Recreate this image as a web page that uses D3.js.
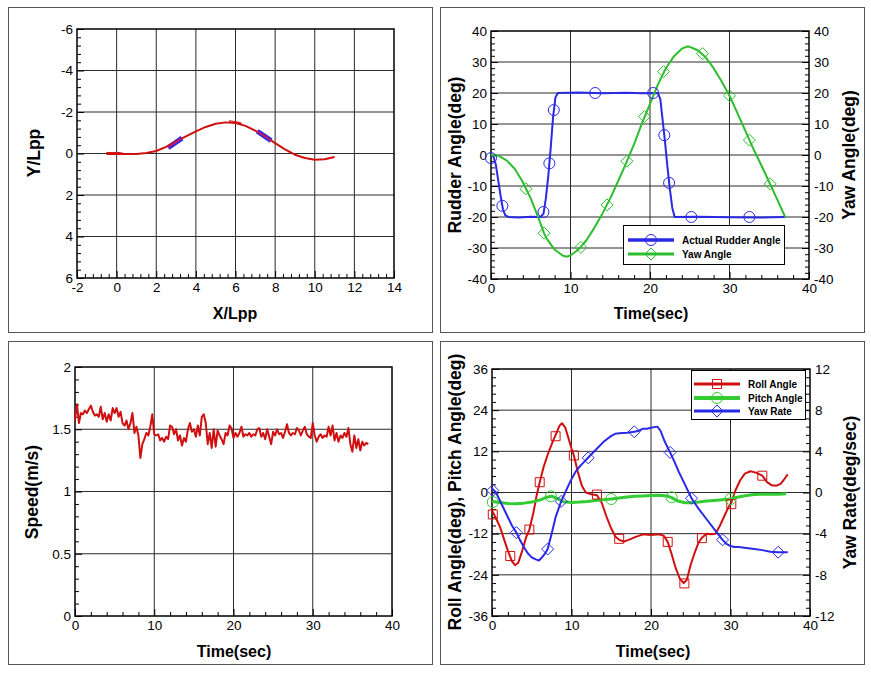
<!DOCTYPE html>
<html><head><meta charset="utf-8">
<script src="https://cdn.jsdelivr.net/npm/d3@7"></script>
<style>
body{margin:0;background:#fff}
svg{display:block}
text{font-family:"Liberation Sans",Arial,Helvetica,sans-serif;fill:#000}
</style>
</head><body>
<svg id="c" width="871" height="675"></svg>
<script>
// ---------------- DATA ----------------
// Panel 1: trajectory
const trajX = [-0.5,0,0.5,1,1.5,2,2.5,3,3.5,4,4.5,5,5.5,6,6.5,7,7.5,8,8.5,9,9.5,10,10.5,11];
const trajY = [0,0.02,0.03,0.02,-0.02,-0.12,-0.32,-0.58,-0.83,-1.07,-1.28,-1.43,-1.5,-1.47,-1.33,-1.1,-0.82,-0.5,-0.2,0.06,0.22,0.3,0.28,0.17];
const shipBlueA = [[2.6,-0.28],[3.3,-0.74]];
const shipBlueB = [[7.1,-1.07],[7.8,-0.62]];
const shipRedA = [[-0.5,-0.05],[0.2,-0.05],[0.35,0],[0.2,0.05],[-0.5,0.05],[-0.5,-0.05]];
const shipRedB = [[5.7,-1.58],[6.1,-1.52],[6.3,-1.46],[5.9,-1.48],[5.7,-1.52],[5.7,-1.58]];
const p1XTicks = [-2,0,2,4,6,8,10,12,14];
const p1YTicks = [-6,-4,-2,0,2,4,6];

// Panel 2: rudder & yaw angle
const rudderT = [0,0.3,0.6,0.9,1.2,1.5,1.8,2.2,3.5,5,6.2,6.6,6.9,7.2,7.5,7.8,8.1,8.4,11,14,17,19,21.0,21.3,21.6,21.9,22.2,22.5,22.8,23.1,26,30,34,37];
const rudderV = [0,-0.5,-3,-8,-13,-17.5,-19.5,-20,-20.2,-19.9,-20,-19,-14,-7,2,12,18.5,20,20.2,19.9,20.1,19.9,20,18,11,4,-4,-11,-17,-20,-19.9,-20.1,-20.2,-20];
const rudderMkT = [0,1.43,6.6,7.34,7.9,13.1,20.4,21.8,22.4,25.2,32.5];
const rudderMkV = [-1,-16.4,-18.4,-2.7,14.5,20,20,6.4,-9,-20,-20];
const yawT = [0,1,2,3,4,4.4,5,6,6.67,7,8,9,9.5,10,11,12,13,14,15,16,17,18,19,20,21,22,23,24,24.7,25,26,27,28,29,30,31,32,33,34,35,36,37];
const yawV = [0,-0.3,-1.8,-4.5,-8.7,-10.9,-14,-20.5,-25.2,-27,-30.5,-32.4,-32.8,-32.4,-30.5,-27.5,-23.5,-19,-14,-8.4,-2.6,3.5,10.3,16.5,22.8,28,31.8,34.3,35,34.9,33.8,31.5,28,23.8,19.1,13.5,7.8,2,-3.3,-8.8,-14.3,-20];
const yawMkT = [4.4,6.67,11.3,14.6,17.1,19.3,21.7,26.6,30,32.5,35.1];
const yawMkV = [-10.9,-25.2,-29.8,-16.1,-2,12.4,26.9,32.7,19.1,4.8,-9.3];
const p2XTicks = [0,10,20,30,40];
const p2YTicks = [-40,-30,-20,-10,0,10,20,30,40];

// Panel 3: speed (sampled every 0.25 s)
const speedV = [1.58,1.70,1.55,1.63,1.62,1.65,1.63,1.66,1.69,1.64,1.61,1.62,1.60,1.68,1.58,1.63,1.56,1.62,1.57,1.67,
1.63,1.67,1.60,1.64,1.55,1.53,1.57,1.50,1.55,1.63,1.47,1.52,1.45,1.27,1.38,1.42,1.47,1.45,1.52,1.62,
1.46,1.45,1.46,1.41,1.43,1.40,1.44,1.42,1.53,1.52,1.46,1.50,1.41,1.45,1.37,1.43,1.40,1.50,1.55,1.48,
1.50,1.44,1.53,1.45,1.60,1.62,1.55,1.38,1.47,1.35,1.50,1.36,1.49,1.45,1.42,1.38,1.47,1.45,1.53,1.51,
1.43,1.47,1.44,1.47,1.52,1.44,1.46,1.45,1.47,1.44,1.46,1.45,1.50,1.51,1.44,1.47,1.42,1.50,1.44,1.38,
1.48,1.45,1.50,1.46,1.47,1.43,1.48,1.54,1.47,1.45,1.47,1.46,1.51,1.49,1.45,1.49,1.52,1.46,1.44,1.43,
1.55,1.45,1.40,1.44,1.46,1.43,1.45,1.44,1.52,1.45,1.53,1.41,1.47,1.40,1.45,1.43,1.47,1.44,1.51,1.38,
1.32,1.45,1.35,1.42,1.33,1.40,1.37,1.39,1.38];
const speedT = speedV.map((v,i)=>i*0.25);
const p3XTicks = [0,10,20,30,40];
const p3YTicks = [0,0.5,1,1.5,2];

// Panel 4: roll, pitch, yaw rate
const rollT = [0,0.5,1,1.5,2,2.5,2.9,3.3,3.8,4.3,4.7,5.2,5.6,6,6.5,7,7.5,8,8.5,8.8,9.2,9.6,10,10.3,10.8,11.3,11.8,12.5,13.2,13.8,14.4,15,15.5,16,16.6,17.2,18,19,20,21,21.6,22.1,22.6,23.1,23.6,24.1,24.5,25,25.5,26,26.4,27,27.6,28.1,28.6,29.2,29.7,30.1,30.6,31.2,31.8,32.5,33.2,34,34.6,35.2,35.8,36.3,36.8,37.2];
const rollV = [-5.2,-7.5,-10,-13.5,-17,-20,-21.2,-20.5,-17,-13,-10.8,-6,-1,3,7.5,11,14,16.8,19.5,20.2,19,16,12.8,10.8,6,2,0,-0.5,-0.8,-3,-7,-10.5,-12.8,-13.8,-14.3,-13.8,-13,-12.2,-12.4,-12.2,-12.6,-14.4,-18,-22,-25,-26.4,-25.5,-21,-17.5,-14.5,-13.2,-12,-12.2,-12,-10,-7,-4.5,-3,0.5,3.5,5.5,6.2,5.8,4.9,3,2.1,2,2.5,4,5.3];
const rollMkT = [0.1,2.3,4.7,6.0,8.0,10.3,13.2,16.0,22.1,24.2,26.4,30.1,34.0];
const rollMkV = [-6.4,-18.5,-10.8,3,16.4,10.8,-0.6,-13.5,-14.4,-26.5,-13.3,-3.4,4.9];
const pitchT = [0,1,2,3,4,5,6,7,7.5,8.2,9,10,11,12,13,14,15,16,17,18,19,20,21,22,22.6,23.4,24.3,25,26,27,28,29,30,31,32,33,34,35,36,37];
const pitchV = [-2.6,-2.9,-3.2,-3.3,-3.1,-2.8,-2.2,-1.3,-1.1,-1.7,-2.7,-2.9,-2.8,-2.6,-2.3,-2.1,-1.9,-1.6,-1.3,-1.1,-1.0,-0.9,-0.8,-1.0,-1.5,-2.5,-3.0,-3.0,-2.8,-2.5,-2.3,-2.1,-1.9,-1.3,-0.9,-0.6,-0.5,-0.5,-0.5,-0.4];
const pitchMkT = [0.1,7.4,15,22.6,30.0];
const pitchMkV = [-2.8,-1.1,-1.9,-1.4,-1.9];
const yawRateT = [0,0.5,1,1.5,2,2.5,3.07,3.5,4,4.5,5,5.5,5.9,6.3,6.7,7,7.5,8,8.7,9.5,10,10.5,11,11.5,12.1,13,14,15,15.5,16,17,17.9,18.5,19,19.5,20,20.8,21.2,21.7,22.4,23,23.5,24,24.5,25.1,26,27,28,29,29.5,30,30.5,31,32,33,34,35,36,37.2];
const yawRateV = [0.4,0,-0.8,-1.6,-2.4,-3.2,-3.9,-4.6,-5.3,-5.9,-6.3,-6.5,-6.6,-6.3,-5.9,-5.5,-4,-2.4,-0.86,0.5,1.3,2,2.5,2.9,3.4,4.1,4.9,5.5,5.7,5.75,5.8,5.9,6.0,6.2,6.2,6.3,6.4,6,5,3.9,2.9,2,1.2,0.4,-0.56,-1.6,-2.6,-3.6,-4.6,-5.0,-5.2,-5.3,-5.3,-5.4,-5.5,-5.6,-5.75,-5.8,-5.8];
const yawRateMkT = [0.1,3.07,7.0,8.7,12.1,17.9,22.4,25.1,29.0,36.0];
const yawRateMkV = [0.2,-3.9,-5.5,-0.86,3.37,5.9,3.9,-0.56,-4.6,-5.8];
const p4XTicks = [0,10,20,30,40];
const p4YTicks = [-36,-24,-12,0,12,24,36];
const p4Y2Ticks = [-12,-8,-4,0,4,8,12];

// ---------------- DRAWING ----------------
const svg = d3.select('#c');
const RED='#d01010', BLUE='#2a2ae6', GREEN='#2dbd2d', GREEN2='#33cc33';

// square-diamond (equal width/height), size = area
const symbolRhomb = {draw(ctx,size){const r=Math.sqrt(size/2);ctx.moveTo(0,-r);ctx.lineTo(r,0);ctx.lineTo(0,r);ctx.lineTo(-r,0);ctx.closePath();}};
const SYMS = {circle:[d3.symbolCircle,95], diamond:[symbolRhomb,72], square:[d3.symbolSquare,81]};

function minors(maj){const o=[];for(let i=0;i<maj.length-1;i++){for(let k=1;k<5;k++)o.push(maj[i]+(maj[i+1]-maj[i])*k/5);}return o;}

function styleAxis(sel){
  sel.select('.domain').remove();
  sel.selectAll('line').attr('stroke','#000').attr('stroke-width',1);
  sel.selectAll('text').style('font-size','13.5px').attr('fill','#000');
}

function panel(c){
  const g = svg.append('g');
  g.append('rect').attr('x',c.box[0]+0.5).attr('y',c.box[1]+0.5).attr('width',c.box[2]).attr('height',c.box[3])
    .attr('fill','#fff').attr('stroke','#555').attr('stroke-width',1);
  const x = d3.scaleLinear().domain(c.xDom).range([c.L,c.R]);
  const y = d3.scaleLinear().domain(c.yDom).range(c.yInv?[c.T,c.B]:[c.B,c.T]);
  g.append('g').selectAll('line').data(c.xTicks.slice(1,-1)).join('line')
    .attr('x1',d=>x(d)).attr('x2',d=>x(d)).attr('y1',c.T).attr('y2',c.B).attr('stroke','#2a2a2a').attr('stroke-width',1);
  g.append('g').selectAll('line').data(c.yTicks.slice(1,-1)).join('line')
    .attr('y1',d=>y(d)).attr('y2',d=>y(d)).attr('x1',c.L).attr('x2',c.R).attr('stroke','#2a2a2a').attr('stroke-width',1);
  const ax = g.append('g').attr('transform',`translate(0,${c.B})`)
    .call(d3.axisBottom(x).tickValues(c.xTicks).tickSizeInner(-7).tickSizeOuter(0).tickPadding(4).tickFormat(d=>String(d)));
  styleAxis(ax);
  const axm = g.append('g').attr('transform',`translate(0,${c.B})`)
    .call(d3.axisBottom(x).tickValues(minors(c.xTicks)).tickSize(-4).tickFormat(''));
  styleAxis(axm);
  const ay = g.append('g').attr('transform',`translate(${c.L},0)`)
    .call(d3.axisLeft(y).tickValues(c.yTicks).tickSizeInner(-7).tickSizeOuter(0).tickPadding(4).tickFormat(d=>String(d)));
  styleAxis(ay);
  const aym = g.append('g').attr('transform',`translate(${c.L},0)`)
    .call(d3.axisLeft(y).tickValues(minors(c.yTicks)).tickSize(-4).tickFormat(''));
  styleAxis(aym);
  let y2=null;
  if(c.y2Dom){
    y2 = d3.scaleLinear().domain(c.y2Dom).range([c.B,c.T]);
    const ar = g.append('g').attr('transform',`translate(${c.R},0)`)
      .call(d3.axisRight(y2).tickValues(c.y2Ticks).tickSizeInner(-7).tickSizeOuter(0).tickPadding(5).tickFormat(d=>String(d)));
    styleAxis(ar);
    const arm = g.append('g').attr('transform',`translate(${c.R},0)`)
      .call(d3.axisRight(y2).tickValues(minors(c.y2Ticks)).tickSize(-4).tickFormat(''));
    styleAxis(arm);
    g.append('text').attr('transform',`translate(${c.y2TitleX},${(c.T+c.B)/2}) rotate(-90)`)
      .attr('text-anchor','middle').style('font-size','17.5px').style('font-weight','bold').text(c.y2Title);
  }
  g.append('rect').attr('x',c.L).attr('y',c.T).attr('width',c.R-c.L).attr('height',c.B-c.T)
    .attr('fill','none').attr('stroke','#000').attr('stroke-width',1.5);
  g.append('text').attr('x',c.xTitlePos[0]).attr('y',c.xTitlePos[1]).attr('text-anchor','middle')
    .style('font-size','16px').style('font-weight','bold').text(c.xTitle);
  g.append('text').attr('transform',`translate(${c.yTitleX},${c.yTitleY}) rotate(-90)`)
    .attr('text-anchor','middle').style('font-size','17.5px').style('font-weight','bold').text(c.yTitle);
  const plot = g.append('g');
  return {g:plot,x,y,y2,c};
}

function line(p, xs, ys, color, w, yScale){
  const ys_ = yScale||p.y;
  p.g.append('path').datum(xs.map((t,i)=>[t,ys[i]]))
    .attr('d',d3.line().x(d=>p.x(d[0])).y(d=>ys_(d[1])))
    .attr('fill','none').attr('stroke',color).attr('stroke-width',w).attr('stroke-linejoin','round');
}
function markers(p, xs, ys, shape, color, yScale){
  const ys_ = yScale||p.y;
  const [sym,size] = SYMS[shape];
  p.g.append('g').selectAll('path').data(xs.map((t,i)=>[t,ys[i]])).join('path')
    .attr('transform',d=>`translate(${p.x(d[0])},${ys_(d[1])})`)
    .attr('d',d3.symbol(sym,size)).attr('fill','none').attr('stroke',color).attr('stroke-width',1);
}
function legendRow(g, x1, x2, y, color, w, shape, label){
  g.append('line').attr('x1',x1).attr('x2',x2).attr('y1',y).attr('y2',y).attr('stroke',color).attr('stroke-width',w);
  const [sym,size] = SYMS[shape];
  g.append('path').attr('transform',`translate(${(x1+x2)/2},${y})`).attr('d',d3.symbol(sym,size))
    .attr('fill','none').attr('stroke',color).attr('stroke-width',1);
  g.append('text').attr('x',x2+8).attr('y',y).attr('dy','0.35em')
    .style('font-size','10px').style('font-weight','bold').text(label);
}

// Panel 1
const p1 = panel({box:[8,7,424,325],L:77,R:394,T:29,B:278,xDom:[-2,14],yDom:[-6,6],yInv:true,
  xTicks:p1XTicks,yTicks:p1YTicks,xTitle:'X/Lpp',xTitlePos:[235,319],yTitle:'Y/Lpp',yTitleX:40,yTitleY:153});
[shipBlueA,shipBlueB].forEach(s=>{
  p1.g.append('path').datum(s).attr('d',d3.line().x(d=>p1.x(d[0])).y(d=>p1.y(d[1])))
    .attr('stroke',BLUE).attr('stroke-width',5).attr('fill','none');
});
line(p1, trajX, trajY, RED, 2);
[shipRedA,shipRedB].forEach(s=>{
  p1.g.append('path').datum(s).attr('d',d3.line().x(d=>p1.x(d[0])).y(d=>p1.y(d[1])))
    .attr('stroke',RED).attr('stroke-width',1).attr('fill','none');
});
[shipBlueA,shipBlueB].forEach(s=>{
  p1.g.append('path').datum(s).attr('d',d3.line().x(d=>p1.x(d[0])).y(d=>p1.y(d[1])))
    .attr('stroke','#b0208a').attr('stroke-width',1.5).attr('fill','none');
});

// Panel 2
const p2 = panel({box:[440,7,424,325],L:491,R:809,T:31,B:279,xDom:[0,40],yDom:[-40,40],
  xTicks:p2XTicks,yTicks:p2YTicks,y2Dom:[-40,40],y2Ticks:p2YTicks,y2Title:'Yaw Angle(deg)',y2TitleX:855,
  xTitle:'Time(sec)',xTitlePos:[651,319],yTitle:'Rudder Angle(deg)',yTitleX:461,yTitleY:155});
line(p2, rudderT, rudderV, BLUE, 2);
line(p2, yawT, yawV, GREEN, 2, p2.y2);
markers(p2, rudderMkT, rudderMkV, 'circle', BLUE);
markers(p2, yawMkT, yawMkV, 'diamond', GREEN, p2.y2);
const lg2 = svg.append('g');
lg2.append('rect').attr('x',623.5).attr('y',225.5).attr('width',161).attr('height',39).attr('fill','#fff').attr('stroke','#000').attr('stroke-width',1);
legendRow(lg2, 628, 674, 240, BLUE, 3.5, 'circle', 'Actual Rudder Angle');
legendRow(lg2, 628, 674, 254, GREEN, 3, 'diamond', 'Yaw Angle');

// Panel 3
const p3 = panel({box:[8,341,424,323],L:75,R:392,T:367,B:616,xDom:[0,40],yDom:[0,2],
  xTicks:p3XTicks,yTicks:p3YTicks,xTitle:'Time(sec)',xTitlePos:[234,657],yTitle:'Speed(m/s)',yTitleX:38,yTitleY:492});
line(p3, speedT, speedV, RED, 2);

// Panel 4
const p4 = panel({box:[440,341,424,323],L:492,R:810,T:369,B:616,xDom:[0,40],yDom:[-36,36],
  xTicks:p4XTicks,yTicks:p4YTicks,y2Dom:[-12,12],y2Ticks:p4Y2Ticks,y2Title:'Yaw Rate(deg/sec)',y2TitleX:856,
  xTitle:'Time(sec)',xTitlePos:[653,657],yTitle:'Roll Angle(deg), Pitch Angle(deg)',yTitleX:461,yTitleY:492});
line(p4, rollT, rollV, RED, 2);
line(p4, pitchT, pitchV, GREEN2, 3);
line(p4, yawRateT, yawRateV, BLUE, 2, p4.y2);
markers(p4, rollMkT, rollMkV, 'square', RED);
markers(p4, pitchMkT, pitchMkV, 'circle', GREEN2);
markers(p4, yawRateMkT, yawRateMkV, 'diamond', BLUE, p4.y2);
const lg4 = svg.append('g');
lg4.append('rect').attr('x',691.5).attr('y',370.5).attr('width',114).attr('height',49).attr('fill','#fff').attr('stroke','#000').attr('stroke-width',1);
legendRow(lg4, 694, 740, 384, RED, 3, 'square', 'Roll Angle');
legendRow(lg4, 694, 740, 398, GREEN2, 4, 'circle', 'Pitch Angle');
legendRow(lg4, 694, 740, 411, BLUE, 3, 'diamond', 'Yaw Rate');
</script>
</body></html>
